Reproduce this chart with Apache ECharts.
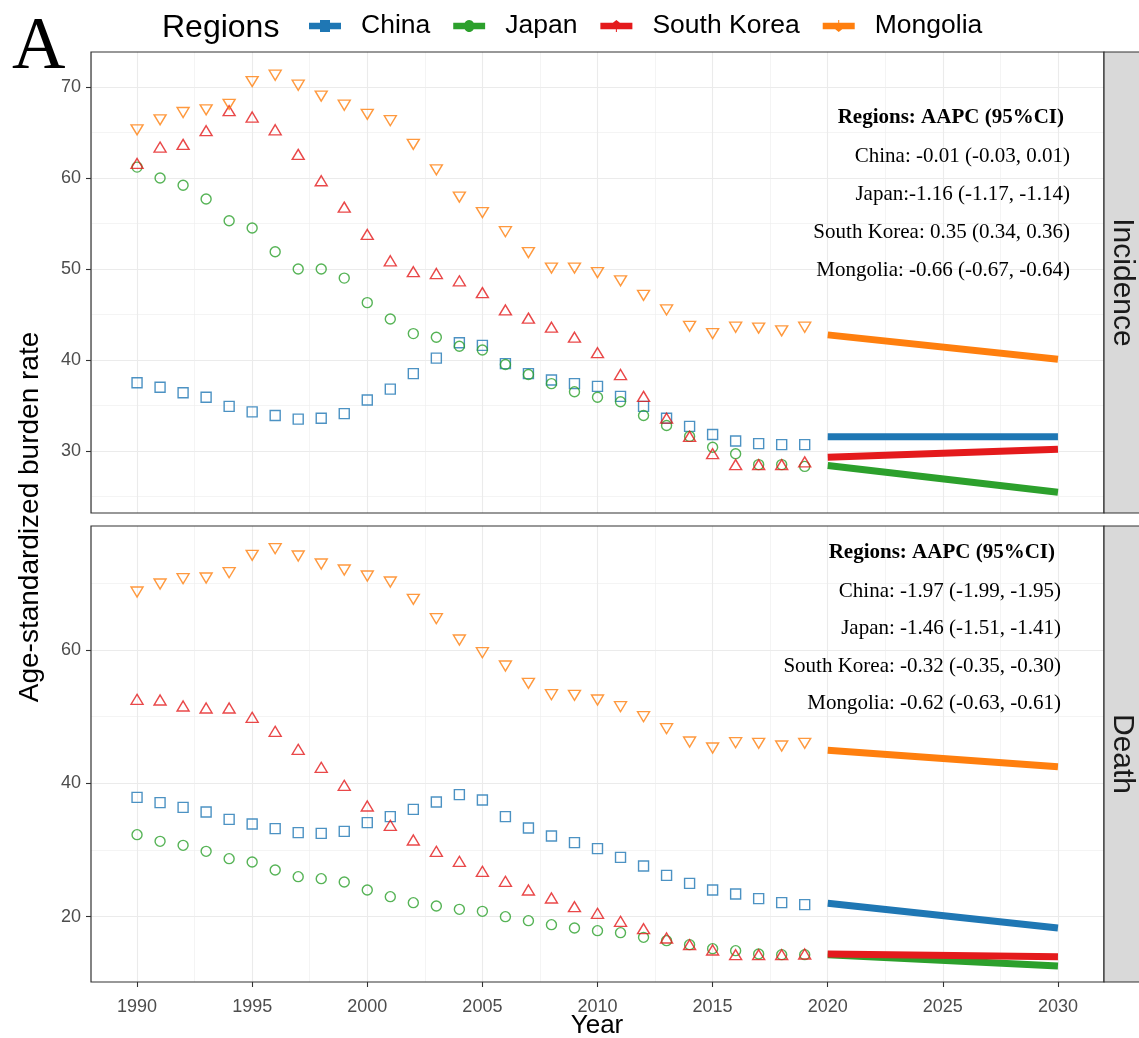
<!DOCTYPE html>
<html>
<head>
<meta charset="utf-8">
<script src="https://cdn.jsdelivr.net/npm/echarts@6/dist/echarts.min.js"></script>
<style>
  html, body { margin: 0; padding: 0; background: #ffffff; }
  #chart { width: 1139px; height: 1038px; }
</style>
</head>
<body>
<div id="chart"></div>
<script>
// Observed years (1990-2019) and projection span (2020-2030)
const years = [1990, 1991, 1992, 1993, 1994, 1995, 1996, 1997, 1998, 1999,
               2000, 2001, 2002, 2003, 2004, 2005, 2006, 2007, 2008, 2009,
               2010, 2011, 2012, 2013, 2014, 2015, 2016, 2017, 2018, 2019];
const projYears = [2020, 2030];
const regions = ['China', 'Japan', 'South Korea', 'Mongolia'];

// Incidence: age-standardized rates
const incidenceChina = [37.5, 37.0, 36.4, 35.9, 34.9, 34.3, 33.9, 33.5, 33.6, 34.1,
                        35.6, 36.8, 38.5, 40.2, 41.9, 41.6, 39.6, 38.5, 37.8, 37.4,
                        37.1, 36.0, 34.9, 33.6, 32.7, 31.8, 31.1, 30.8, 30.7, 30.7];
const incidenceJapan = [61.2, 60.0, 59.2, 57.7, 55.3, 54.5, 51.9, 50.0, 50.0, 49.0,
                        46.3, 44.5, 42.9, 42.5, 41.5, 41.1, 39.5, 38.4, 37.4, 36.5,
                        35.9, 35.4, 33.9, 32.8, 31.6, 30.4, 29.7, 28.5, 28.5, 28.3];
const incidenceKorea = [61.6, 63.4, 63.7, 65.2, 67.4, 66.7, 65.3, 62.6, 59.7, 56.8,
                        53.8, 50.9, 49.7, 49.5, 48.7, 47.4, 45.5, 44.6, 43.6, 42.5,
                        40.8, 38.4, 36.0, 33.6, 31.6, 29.7, 28.5, 28.5, 28.5, 28.8];
const incidenceMongolia = [65.3, 66.4, 67.2, 67.5, 68.1, 70.6, 71.3, 70.2, 69.0, 68.0,
                           67.0, 66.3, 63.7, 60.9, 57.9, 56.2, 54.1, 51.8, 50.1, 50.1,
                           49.6, 48.7, 47.1, 45.5, 43.7, 42.9, 43.6, 43.5, 43.2, 43.6];

// Death: age-standardized rates
const deathChina = [37.9, 37.1, 36.4, 35.7, 34.6, 33.9, 33.2, 32.6, 32.5, 32.8,
                    34.1, 35.0, 36.1, 37.2, 38.3, 37.5, 35.0, 33.3, 32.1, 31.1,
                    30.2, 28.9, 27.6, 26.2, 25.0, 24.0, 23.4, 22.7, 22.1, 21.8];
const deathJapan = [32.3, 31.3, 30.7, 29.8, 28.7, 28.2, 27.0, 26.0, 25.7, 25.2,
                    24.0, 23.0, 22.1, 21.6, 21.1, 20.8, 20.0, 19.4, 18.8, 18.3,
                    17.9, 17.6, 16.9, 16.4, 15.8, 15.2, 14.9, 14.4, 14.3, 14.3];
const deathKorea = [52.6, 52.5, 51.6, 51.3, 51.3, 49.9, 47.8, 45.1, 42.4, 39.7,
                    36.6, 33.7, 31.5, 29.8, 28.3, 26.8, 25.3, 24.0, 22.8, 21.5,
                    20.5, 19.3, 18.2, 16.8, 15.8, 15.0, 14.3, 14.3, 14.3, 14.4];
const deathMongolia = [68.7, 69.9, 70.7, 70.8, 71.6, 74.2, 75.2, 74.1, 72.9, 72.0,
                       71.1, 70.2, 67.6, 64.7, 61.5, 59.6, 57.6, 55.0, 53.3, 53.2,
                       52.5, 51.5, 50.0, 48.2, 46.2, 45.3, 46.1, 46.0, 45.6, 46.0];

// Projected trend (2020 -> 2030)
const projIncidenceChina = [31.57, 31.55];
const projIncidenceJapan = [28.4, 25.45];
const projIncidenceKorea = [29.3, 30.2];
const projIncidenceMongolia = [42.76, 40.08];
const projDeathChina = [22.0, 18.3];
const projDeathJapan = [14.3, 12.6];
const projDeathKorea = [14.4, 14.0];
const projDeathMongolia = [44.95, 42.5];

// AAPC annotations
const aapcTitle = 'Regions: AAPC (95%CI)';
const aapcIncidence = ['China: -0.01 (-0.03, 0.01)', 'Japan:-1.16 (-1.17, -1.14)',
                       'South Korea: 0.35 (0.34, 0.36)', 'Mongolia: -0.66 (-0.67, -0.64)'];
const aapcDeath = ['China: -1.97 (-1.99, -1.95)', 'Japan: -1.46 (-1.51, -1.41)',
                   'South Korea: -0.32 (-0.35, -0.30)', 'Mongolia: -0.62 (-0.63, -0.61)'];

// Axis ticks
const xTicks = [1990, 1995, 2000, 2005, 2010, 2015, 2020, 2025, 2030];
const incidenceTicks = [30, 40, 50, 60, 70];
const deathTicks = [20, 40, 60];
const facetLabels = ['Incidence', 'Death'];

// ---------------------------------------------------------------------------
const colors = {
  'China': '#1f77b4',
  'Japan': '#2ca02c',
  'South Korea': '#e41a1c',
  'Mongolia': '#ff7f0e'
};
const shapes = {
  'China': { symbol: 'rect', size: 10, rotate: 0 },
  'Japan': { symbol: 'circle', size: 10, rotate: 0 },
  'South Korea': { symbol: 'triangle', size: [12, 10], rotate: 0 },
  'Mongolia': { symbol: 'triangle', size: [12, 10], rotate: 180 }
};
const legendIcons = {
  'China': 'path://M0,2.8H11V0H21V2.8H32V9.2H21V12H11V9.2H0Z',
  'Japan': 'path://M0,2.8H11.5A5,5,0,0,1,20.5,2.8H32V9.2H20.5A5,5,0,0,1,11.5,9.2H0Z',
  'South Korea': 'path://M0,2.8H12.5L16,0L19.5,2.8H32V9.2H16.5V12H15.5V9.2H0Z',
  'Mongolia': 'path://M0,2.8H15.5V0H16.5V2.8H32V9.2H19.5L16,12L12.5,9.2H0Z'
};

const panels = [
  {
    observed: { 'China': incidenceChina, 'Japan': incidenceJapan, 'South Korea': incidenceKorea, 'Mongolia': incidenceMongolia },
    projected: { 'China': projIncidenceChina, 'Japan': projIncidenceJapan, 'South Korea': projIncidenceKorea, 'Mongolia': projIncidenceMongolia }
  },
  {
    observed: { 'China': deathChina, 'Japan': deathJapan, 'South Korea': deathKorea, 'Mongolia': deathMongolia },
    projected: { 'China': projDeathChina, 'Japan': projDeathJapan, 'South Korea': projDeathKorea, 'Mongolia': projDeathMongolia }
  }
];

function zip(xs, ys) { return xs.map((x, i) => [x, ys[i]]); }

const series = [];
panels.forEach((panel, p) => {
  regions.forEach(r => {
    series.push({
      type: 'scatter', name: r, xAxisIndex: p, yAxisIndex: p, z: 3,
      symbol: shapes[r].symbol, symbolSize: shapes[r].size, symbolRotate: shapes[r].rotate,
      itemStyle: { color: 'rgba(0,0,0,0)', borderColor: colors[r], borderWidth: 1.4 },
      silent: true,
      data: zip(years, panel.observed[r])
    });
  });
});
panels.forEach((panel, p) => {
  regions.forEach(r => {
    series.push({
      type: 'line', name: r, xAxisIndex: p, yAxisIndex: p, z: 2,
      showSymbol: false, silent: true,
      lineStyle: { color: colors[r], width: 7, cap: 'butt' },
      itemStyle: { color: colors[r] },
      data: zip(projYears, panel.projected[r])
    });
  });
});

const sans = "'Liberation Sans', Arial, Helvetica, sans-serif";
const serif = "'Liberation Serif', 'Times New Roman', serif";

const grids = [
  { left: 91, top: 52, width: 1013, height: 461 },
  { left: 91, top: 526, width: 1013, height: 456 }
];

function plain(v) { return String(v); }

function xAxisFor(i, showLabels) {
  return {
    type: 'value', gridIndex: i, min: 1988, max: 2032, splitNumber: 8,
    axisLine: { show: false },
    axisTick: showLabels
      ? { show: true, length: 5, customValues: xTicks, lineStyle: { color: '#333333', width: 1.1 } }
      : { show: false },
    axisLabel: showLabels
      ? { show: true, customValues: xTicks, formatter: plain, fontSize: 18, color: '#4d4d4d', fontFamily: sans, margin: 16 }
      : { show: false },
    splitLine: { show: true, lineStyle: { color: '#ebebeb', width: 1.1 } },
    minorTick: { show: false, splitNumber: 2 },
    minorSplitLine: { show: true, lineStyle: { color: '#ececec', width: 0.6 } }
  };
}
function yAxisFor(i, min, max, splitNumber, ticks) {
  return {
    type: 'value', gridIndex: i, min: min, max: max, splitNumber: splitNumber,
    axisLine: { show: false },
    axisTick: { show: true, length: 5, customValues: ticks, lineStyle: { color: '#333333', width: 1.1 } },
    axisLabel: { show: true, customValues: ticks, formatter: plain, fontSize: 18, color: '#4d4d4d', fontFamily: sans, margin: 10 },
    splitLine: { show: true, lineStyle: { color: '#ebebeb', width: 1.1 } },
    minorTick: { show: false, splitNumber: 2 },
    minorSplitLine: { show: true, lineStyle: { color: '#ececec', width: 0.6 } }
  };
}

// Panel borders, facet strips, titles and AAPC annotations
const graphic = [];
grids.forEach((g, i) => {
  graphic.push({
    type: 'rect', z: 100, silent: true,
    shape: { x: g.left, y: g.top, width: g.width, height: g.height },
    style: { fill: 'none', stroke: '#333333', lineWidth: 1.2 }
  });
  graphic.push({
    type: 'rect', z: 100, silent: true,
    shape: { x: g.left + g.width, y: g.top, width: 40, height: g.height },
    style: { fill: '#d9d9d9', stroke: '#333333', lineWidth: 1.2 }
  });
  graphic.push({
    type: 'text', z: 101, silent: true,
    x: g.left + g.width + 18, y: g.top + g.height / 2, rotation: -Math.PI / 2,
    style: { text: facetLabels[i], font: '30px ' + sans, fill: '#1a1a1a', align: 'center', verticalAlign: 'middle' }
  });
});

function annotation(lines, titleRight, lineRight, ys) {
  graphic.push({
    type: 'text', z: 101, silent: true, x: titleRight, y: ys[0],
    style: { text: aapcTitle, font: 'bold 21px ' + serif, fill: '#000000', align: 'right', verticalAlign: 'middle' }
  });
  lines.forEach((t, k) => {
    graphic.push({
      type: 'text', z: 101, silent: true, x: lineRight, y: ys[k + 1],
      style: { text: t, font: '21px ' + serif, fill: '#000000', align: 'right', verticalAlign: 'middle' }
    });
  });
}
annotation(aapcIncidence, 1064, 1070, [118, 156, 194, 232, 270]);
annotation(aapcDeath, 1055, 1061, [553, 591, 628, 666, 703]);

graphic.push({
  type: 'text', silent: true, x: 12, y: 49,
  style: { text: 'A', font: '74px ' + serif, fill: '#000000', align: 'left', verticalAlign: 'middle' }
});
graphic.push({
  type: 'text', silent: true, x: 162, y: 28,
  style: { text: 'Regions', font: '32px ' + sans, fill: '#000000', align: 'left', verticalAlign: 'middle' }
});
graphic.push({
  type: 'text', silent: true, x: 30, y: 517, rotation: Math.PI / 2,
  style: { text: 'Age-standardized burden rate', font: '28px ' + sans, fill: '#000000', align: 'center', verticalAlign: 'middle' }
});
graphic.push({
  type: 'text', silent: true, x: 597, y: 1026,
  style: { text: 'Year', font: '26px ' + sans, fill: '#000000', align: 'center', verticalAlign: 'middle' }
});

const option = {
  animation: false,
  backgroundColor: '#ffffff',
  grid: grids.map(g => Object.assign({ show: true, backgroundColor: '#ffffff', borderWidth: 0 }, g)),
  xAxis: [xAxisFor(0, false), xAxisFor(1, true)],
  yAxis: [
    yAxisFor(0, 23.18, 73.85, 5, incidenceTicks),
    yAxisFor(1, 10.2, 78.6, 4, deathTicks)
  ],
  legend: {
    left: 304, top: 6,
    orient: 'horizontal',
    selectedMode: false,
    itemWidth: 32, itemHeight: 12, itemGap: 23,
    textStyle: { fontSize: 26.5, fontFamily: sans, color: '#000000', lineHeight: 30, padding: [0, 0, 0, 15] },
    data: regions.map(r => ({
      name: r, icon: legendIcons[r],
      itemStyle: { color: colors[r], borderWidth: 0, opacity: 1 }
    }))
  },
  graphic: graphic,
  series: series
};

const chart = echarts.init(document.getElementById('chart'), null, { renderer: 'canvas' });
chart.setOption(option);
</script>
</body>
</html>
